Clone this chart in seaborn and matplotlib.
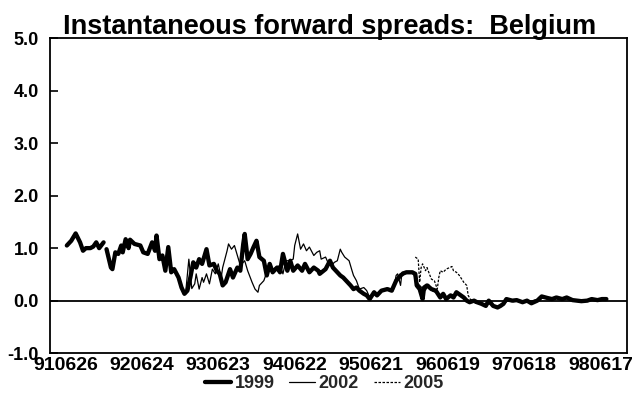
import numpy as np
import pandas as pd
import matplotlib
matplotlib.use("Agg")
import matplotlib.pyplot as plt
import seaborn as sns

# Weekly observations; x is the week number counted from 26 June 1991.
# Instantaneous forward spread (percentage points) for three horizons.
weeks_1999 = [1, 4, 7, 10, 12, 14, 17, 19, 21, 23, 26, 27,
              28, 31, 32, 34, 36, 38, 39, 41, 43, 44, 47, 51, 53, 56, 59, 61, 62,
              64, 66, 68, 70, 72, 74, 77, 79, 81, 83, 85, 87, 89, 91, 93, 96, 98,
              101, 103, 105, 107, 109, 112, 114, 117, 119, 121, 122, 124, 126, 128,
              130, 132, 135, 137, 139, 141, 144, 146, 148, 151, 153, 155, 158, 161,
              163, 166, 169, 172, 173, 177, 180, 182, 185, 187, 189, 191, 194, 196,
              198, 200, 203, 205, 207, 210, 212, 215, 219, 222, 225, 228, 230, 232,
              236, 238, 239, 241, 243, 244, 246, 249, 252, 255, 257, 259, 262, 264,
              266, 269, 271, 273, 275, 278, 280, 283, 286, 288, 291, 294, 296, 298,
              300, 304, 307, 311, 314, 317, 321, 324, 328, 331, 334, 338, 341, 345,
              348, 351, 355, 358, 362, 365, 368]
vals_1999 = [1.05, 1.14, 1.28, 1.11, 0.95, 1.00, 1.00, 1.03, 1.11, 1.00, 1.11, np.nan,
             0.98, 0.63, 0.60, 0.92, 0.89, 1.05, 0.92, 1.17, 1.00, 1.16, 1.08, 1.05,
             0.92, 0.89, 1.11, 0.95, 1.24,
             0.79, 0.86, 0.57, 1.02, 0.54, 0.60, 0.44, 0.25, 0.13, 0.19, 0.44, 0.73,
             0.63, 0.79, 0.70, 0.98, 0.67,
             0.70, 0.57, 0.51, 0.29, 0.35, 0.60, 0.44, 0.63, 0.57, 1.08, 1.27, 0.79,
             0.89, 1.02,
             1.14, 0.83, 0.76, 0.48, 0.70, 0.54, 0.63, 0.54, 0.89, 0.57, 0.76, 0.57,
             0.67, 0.57,
             0.70, 0.54, 0.63, 0.57, 0.51, 0.60, 0.76, 0.63, 0.54, 0.48, 0.44, 0.38,
             0.29, 0.22,
             0.25, 0.19, 0.13, 0.10, 0.03, 0.16, 0.10, 0.19, 0.22, 0.19, 0.38, 0.48,
             0.52, 0.54,
             0.54, 0.51, 0.29, 0.22, 0.03, 0.25, 0.29, 0.22, 0.19, 0.06, 0.13, 0.03,
             0.10, 0.06,
             0.16, 0.10, 0.06, 0.00, -0.03, 0.00, -0.03, -0.06, -0.10, 0.00, -0.10,
             -0.13, -0.10, -0.06,
             0.03, 0.00, 0.01, -0.03, 0.00, -0.05, 0.00, 0.08, 0.05, 0.03, 0.06, 0.03,
             0.06, 0.01,
             0.00, -0.01, 0.00, 0.03, 0.01, 0.03, 0.03]

weeks_2002 = [82, 84, 86, 88, 89, 91, 93, 94, 96, 98, 100, 102, 104, 106, 107, 110,
              111, 113, 115, 117, 119, 122, 124, 127, 129, 131, 132, 135, 137, 140,
              143, 146, 148, 150, 152, 155, 156, 158, 160, 162, 164, 166, 169, 171,
              173, 174, 177, 179, 181, 183, 185, 187, 188, 190, 193, 195, 196, 198,
              200, 203, 205, 207, 209, 212, 214, 217, 220, 223, 225, 226, 228, 229,
              232, 234, 237, 238, 240, 242, 245, 247, 250, 253, 256, 258, 260, 263,
              265, 267, 270, 272, 274, 276, 279, 282, 285, 287, 290, 293, 295, 297,
              299, 302, 305, 308, 310, 313, 316, 319, 322, 325, 327, 330, 333, 336,
              340, 343, 346, 350, 353, 356, 360, 363, 367]
vals_2002 = [0.20, 0.79, 0.23, 0.32, 0.51, 0.22, 0.44, 0.35, 0.51, 0.32, 0.60, 0.51,
             0.70, 0.44, 0.63, 0.95,
             1.08, 0.98, 1.05, 0.86, 0.67, 0.76, 0.57, 0.35, 0.22, 0.16, 0.29, 0.38,
             0.54, 0.57,
             0.63, 0.67, 0.51, 0.76, 0.76, 0.79, 1.05, 1.27, 0.98, 1.08, 0.95, 1.02,
             0.86, 0.92,
             0.95, 0.79, 0.83, 0.70, 0.67, 0.73, 0.76, 0.98, 0.92, 0.83, 0.76, 0.57,
             0.48, 0.38,
             0.22, 0.25, 0.19, 0.06, 0.12, 0.14, 0.17, 0.20, 0.21, 0.19, 0.48, 0.51,
             0.29, 0.54,
             0.54, 0.54, 0.51, 0.41, 0.32, 0.26, 0.20, 0.31, 0.18, 0.15, 0.10, 0.08,
             0.06, 0.12,
             0.08, 0.13, 0.07, 0.03, -0.02, 0.02, -0.05, -0.04, -0.08, -0.03, -0.08,
             -0.11, -0.12, -0.08,
             -0.02, 0.01, -0.02, 0.02, -0.01, -0.03, -0.02, 0.01, 0.02, 0.06, 0.07,
             0.04, 0.05, 0.04,
             0.05, 0.03, -0.01, 0.01, -0.02, 0.02, 0.02, 0.03, 0.02]

weeks_2005 = [238, 240, 241, 242, 243, 245, 246, 248, 249, 251, 253, 254, 255, 257,
              259, 263, 264, 266, 268, 271, 273, 274, 276, 278, 281, 284, 287, 290,
              293, 296, 299, 302, 306, 310, 314, 318, 322, 326, 330, 334, 338, 342,
              346, 350, 354, 358, 362, 366]
vals_2005 = [0.83, 0.79, 0.35, 0.63, 0.70, 0.57, 0.63, 0.48, 0.41, 0.38, 0.22, 0.44,
             0.57, 0.54, 0.60, 0.65, 0.57, 0.54, 0.48, 0.35, 0.29, 0.10, 0.00, -0.02,
             -0.02, -0.07, -0.05, -0.07, -0.12, -0.09, -0.04, 0.02, 0.00, -0.02, -0.01,
             -0.02, 0.01, 0.07, 0.04, 0.05, 0.04, 0.04, 0.00, 0.00, 0.00, 0.02, 0.02,
             0.03]

tick_weeks = [0, 52, 104, 156, 208, 260, 312, 364]
tick_labels = ["910626", "920624", "930623", "940622",
               "950621", "960619", "970618", "980617"]
y_ticks = [-1.0, 0.0, 1.0, 2.0, 3.0, 4.0, 5.0]

series_names = ["1999", "2002", "2005"]


def frame(weeks, vals, name):
    df = pd.DataFrame({"week": weeks, "spread": vals, "series": name})
    # separate unbroken runs so gaps stay gaps
    df["segment"] = df["spread"].isna().cumsum()
    return df.dropna()


data = pd.concat([frame(weeks_1999, vals_1999, "1999"),
                  frame(weeks_2002, vals_2002, "2002"),
                  frame(weeks_2005, vals_2005, "2005")], ignore_index=True)

sns.set_theme(style="white")
plt.rcParams["font.family"] = ["Liberation Sans", "DejaVu Sans"]
plt.rcParams["font.weight"] = "bold"

fig = plt.figure(figsize=(6.32, 4.05), dpi=100)
ax = fig.add_axes([0.079, 0.128, 0.913, 0.778])

styles = {"1999": dict(lw=3.1, ls="-"),
          "2002": dict(lw=0.9, ls="-"),
          "2005": dict(lw=0.9, ls=(0, (2.0, 1.2)))}

# draw in reverse so the thick line sits on top
for name in reversed(series_names):
    sub = data[data["series"] == name]
    sns.lineplot(data=sub, x="week", y="spread", units="segment", estimator=None,
                 color="black", linewidth=styles[name]["lw"],
                 linestyle=styles[name]["ls"], ax=ax, legend=False)

ax.axhline(0.0, color="black", lw=1.3, zorder=1)

ax.set_xlim(-10.5, 382)
ax.set_ylim(-1.0, 5.0)
ax.set_xticks(tick_weeks)
ax.set_xticklabels(tick_labels)
ax.set_yticks(y_ticks)
ax.set_yticklabels([f"{v:.1f}" for v in y_ticks])
ax.tick_params(axis="x", length=0, pad=3, labelsize=14)
ax.tick_params(axis="y", direction="in", length=6, width=1.2, pad=8,
               labelsize=13, left=True, color="black")
for lab in ax.get_xticklabels() + ax.get_yticklabels():
    lab.set_fontweight("bold")
    lab.set_color("black")
ax.set_xlabel("")
ax.set_ylabel("")
for sp in ax.spines.values():
    sp.set_color("black")
    sp.set_linewidth(1.3)

ax.set_title("Instantaneous forward spreads:  Belgium", fontsize=19.5,
             fontweight="bold", color="black", pad=3, x=0.485)

handles = [plt.Line2D([], [], color="black", lw=styles[n]["lw"],
                      ls=styles[n]["ls"]) for n in series_names]
leg = fig.legend(handles, series_names, loc="center", bbox_to_anchor=(0.513, 0.053),
                 ncol=3, frameon=False, handlelength=1.45,
                 handletextpad=0.2, columnspacing=0.8,
                 prop={"weight": "bold", "size": 13})

fig.savefig("out.png", dpi=100)
